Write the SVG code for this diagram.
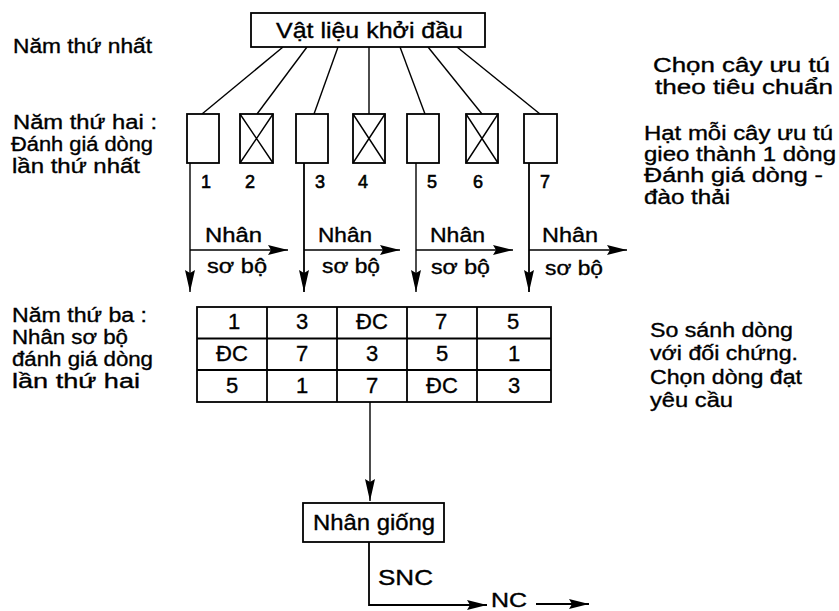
<svg xmlns="http://www.w3.org/2000/svg" width="839" height="611" viewBox="0 0 839 611">
<style>
text{font-family:"Liberation Sans",Arial,sans-serif;fill:#000;stroke:#000;stroke-width:0.35}
.t{font-size:20px}
.n{font-size:18px;text-anchor:middle;stroke-width:0.6}
.c{font-size:22px;text-anchor:middle}
.b{font-size:22px}
.box{fill:#fff;stroke:#000;stroke-width:1.8}
.ln{stroke:#000;stroke-width:1.4;fill:none}
.lk{stroke:#000;stroke-width:1.8;fill:none}
</style>
<defs>
<marker id="av" viewBox="0 0 22 10" refX="22" refY="5" markerWidth="22" markerHeight="10" orient="auto" markerUnits="userSpaceOnUse"><path d="M0,0 L22,5 L0,10 L3,5 z" fill="#000"/></marker>
<marker id="ah" viewBox="0 0 20 10" refX="20" refY="5" markerWidth="20" markerHeight="10" orient="auto" markerUnits="userSpaceOnUse"><path d="M0,0 L20,5 L0,10 L3,5 z" fill="#000"/></marker>
</defs>
<rect width="839" height="611" fill="#fff"/>

<g id="labels-left">
<text class="t" x="13" y="53" textLength="139" lengthAdjust="spacingAndGlyphs">Năm thứ nhất</text>
<text class="t" x="13" y="129" textLength="144" lengthAdjust="spacingAndGlyphs">Năm thứ hai :</text>
<text class="t" x="11" y="151" textLength="142" lengthAdjust="spacingAndGlyphs">Đánh giá dòng</text>
<text class="t" x="12" y="173" textLength="128" lengthAdjust="spacingAndGlyphs">lần thứ nhất</text>
<text class="t" x="12" y="322" textLength="135" lengthAdjust="spacingAndGlyphs">Năm thứ ba :</text>
<text class="t" x="12" y="344" textLength="116" lengthAdjust="spacingAndGlyphs">Nhân sơ bộ</text>
<text class="t" x="12" y="366" textLength="141" lengthAdjust="spacingAndGlyphs">đánh giá dòng</text>
<text class="t" x="12" y="388" textLength="128" lengthAdjust="spacingAndGlyphs">lần thứ hai</text>
</g>

<g id="labels-right">
<text class="t" x="653" y="72" textLength="177" lengthAdjust="spacingAndGlyphs">Chọn cây ưu tú</text>
<text class="t" x="655" y="94" textLength="178" lengthAdjust="spacingAndGlyphs">theo tiêu chuẩn</text>
<text class="t" x="644" y="140" textLength="189" lengthAdjust="spacingAndGlyphs">Hạt mỗi cây ưu tú</text>
<text class="t" x="644" y="161" textLength="192" lengthAdjust="spacingAndGlyphs">gieo thành 1 dòng</text>
<text class="t" x="644" y="182" textLength="179" lengthAdjust="spacingAndGlyphs">Đánh giá dòng -</text>
<text class="t" x="644" y="204" textLength="86" lengthAdjust="spacingAndGlyphs">đào thải</text>
<text class="t" x="650" y="337" textLength="143" lengthAdjust="spacingAndGlyphs">So sánh dòng</text>
<text class="t" x="650" y="360" textLength="148" lengthAdjust="spacingAndGlyphs">với đối chứng.</text>
<text class="t" x="650" y="384" textLength="152" lengthAdjust="spacingAndGlyphs">Chọn dòng đạt</text>
<text class="t" x="650" y="407" textLength="83" lengthAdjust="spacingAndGlyphs">yêu cầu</text>
</g>

<g id="connectors">
<line class="ln" x1="283" y1="47" x2="202" y2="114"/>
<line class="ln" x1="307" y1="47" x2="257" y2="114"/>
<line class="ln" x1="338" y1="47" x2="314" y2="114"/>
<line class="ln" x1="369" y1="47" x2="369" y2="114"/>
<line class="ln" x1="400" y1="47" x2="425" y2="114"/>
<line class="ln" x1="428" y1="47" x2="482" y2="114"/>
<line class="ln" x1="457" y1="47" x2="540" y2="114"/>
<line class="ln" x1="190" y1="163" x2="190" y2="292" marker-end="url(#av)"/>
<line class="lk" x1="304" y1="163" x2="304" y2="292" marker-end="url(#av)"/>
<line class="ln" x1="416" y1="163" x2="416" y2="292" marker-end="url(#av)"/>
<line class="lk" x1="529" y1="163" x2="529" y2="292" marker-end="url(#av)"/>
<line class="ln" x1="190" y1="250" x2="288" y2="250" marker-end="url(#ah)"/>
<line class="ln" x1="304" y1="250" x2="400" y2="250" marker-end="url(#ah)"/>
<line class="ln" x1="416" y1="250" x2="513" y2="250" marker-end="url(#ah)"/>
<line class="ln" x1="529" y1="250" x2="627" y2="250" marker-end="url(#ah)"/>
<line class="ln" x1="370" y1="402" x2="370" y2="501" marker-end="url(#av)"/>
<polyline class="lk" points="369,542 369,605 487,605" marker-end="url(#ah)"/>
<line class="lk" x1="536" y1="604" x2="589" y2="604" marker-end="url(#ah)"/>
<text class="t" x="205" y="242" textLength="57" lengthAdjust="spacingAndGlyphs">Nhân</text>
<text class="t" x="207" y="273" textLength="60" lengthAdjust="spacingAndGlyphs">sơ bộ</text>
<text class="t" x="318" y="242" textLength="54" lengthAdjust="spacingAndGlyphs">Nhân</text>
<text class="t" x="322" y="273" textLength="58" lengthAdjust="spacingAndGlyphs">sơ bộ</text>
<text class="t" x="430" y="242" textLength="55" lengthAdjust="spacingAndGlyphs">Nhân</text>
<text class="t" x="431" y="274" textLength="59" lengthAdjust="spacingAndGlyphs">sơ bộ</text>
<text class="t" x="542" y="242" textLength="56" lengthAdjust="spacingAndGlyphs">Nhân</text>
<text class="t" x="545" y="275" textLength="58" lengthAdjust="spacingAndGlyphs">sơ bộ</text>
<text class="b" x="378" y="585" textLength="55" lengthAdjust="spacingAndGlyphs">SNC</text>
</g>

<g id="node-start">
<rect class="box" x="251" y="13" width="234" height="34"/>
<text class="b" x="276" y="38" textLength="187" lengthAdjust="spacingAndGlyphs">Vật liệu khởi đầu</text>
</g>

<g id="node-line-1"><rect class="box" x="187" y="114" width="32" height="49"/><text class="n" x="206" y="188">1</text></g>
<g id="node-line-2"><rect class="box" x="240" y="114" width="33" height="49"/><path class="ln" d="M240,114 L273,163 M273,114 L240,163"/><text class="n" x="250" y="188">2</text></g>
<g id="node-line-3"><rect class="box" x="296" y="114" width="32" height="49"/><text class="n" x="320" y="188">3</text></g>
<g id="node-line-4"><rect class="box" x="353" y="114" width="32" height="49"/><path class="ln" d="M353,114 L385,163 M385,114 L353,163"/><text class="n" x="363" y="188">4</text></g>
<g id="node-line-5"><rect class="box" x="407" y="114" width="32" height="49"/><text class="n" x="432" y="188">5</text></g>
<g id="node-line-6"><rect class="box" x="466" y="114" width="32" height="49"/><path class="ln" d="M466,114 L498,163 M498,114 L466,163"/><text class="n" x="478" y="188">6</text></g>
<g id="node-line-7"><rect class="box" x="524" y="114" width="33" height="49"/><text class="n" x="545" y="188">7</text></g>

<g id="node-table">
<rect class="box" x="197" y="307" width="354" height="95"/>
<path class="lk" d="M197,338.5 H551 M197,370 H551 M267,307 V402 M337,307 V402 M407,307 V402 M477,307 V402"/>
<text class="c" x="234" y="329">1</text>
<text class="c" x="302" y="329">3</text>
<text class="c" x="372" y="329">ĐC</text>
<text class="c" x="441" y="329">7</text>
<text class="c" x="513" y="329">5</text>
<text class="c" x="232" y="361">ĐC</text>
<text class="c" x="302" y="361">7</text>
<text class="c" x="372" y="361">3</text>
<text class="c" x="442" y="361">5</text>
<text class="c" x="514" y="361">1</text>
<text class="c" x="232" y="393">5</text>
<text class="c" x="302" y="393">1</text>
<text class="c" x="372" y="393">7</text>
<text class="c" x="442" y="393">ĐC</text>
<text class="c" x="514" y="393">3</text>
</g>

<g id="node-nhan-giong">
<rect class="box" x="303" y="503" width="141" height="39"/>
<text class="b" x="313" y="530" textLength="122" lengthAdjust="spacingAndGlyphs">Nhân giống</text>
</g>

<g id="node-nc">
<text style="font-size:20px" x="491" y="607" textLength="36" lengthAdjust="spacingAndGlyphs">NC</text>
</g>
</svg>
